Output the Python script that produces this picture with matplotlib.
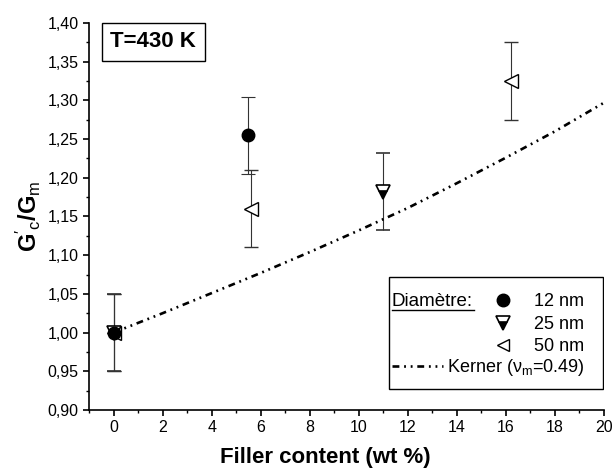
import matplotlib
matplotlib.use("Agg")
import matplotlib.pyplot as plt
from matplotlib.ticker import MultipleLocator, FuncFormatter
from matplotlib.lines import Line2D
from matplotlib.patches import Rectangle
from matplotlib import font_manager

# police etroite si disponible
names = {f.name for f in font_manager.fontManager.ttflist}
narrow = "Liberation Sans Narrow" if "Liberation Sans Narrow" in names else "Liberation Sans"

plt.rcParams["font.family"] = [narrow, "DejaVu Sans"]
plt.rcParams["mathtext.fontset"] = "custom"
plt.rcParams["mathtext.rm"] = narrow
plt.rcParams["mathtext.it"] = narrow
plt.rcParams["mathtext.bf"] = "Liberation Sans:bold"

# donnees
x_12 = [0, 5.5]
y_12 = [1.0, 1.255]
err_12 = [0.05, 0.05]

x_25 = [0, 11.0]
y_25 = [1.0, 1.182]
err_25 = [0.05, 0.05]

x_50 = [0, 5.6, 16.2]
y_50 = [1.0, 1.16, 1.325]
err_50 = [0.05, 0.05, 0.05]

x_kerner = [0, 2, 4, 6, 8, 10, 12, 14, 16, 18, 20]
y_kerner = [1.000, 1.025, 1.051, 1.077, 1.104, 1.132, 1.161, 1.193, 1.226, 1.260, 1.297]

labels = ["12 nm", "25 nm", "50 nm"]
kerner_label = r"Kerner ($\nu_{\mathrm{m}}$=0.49)"

dashdotdot = (0, (2.6, 1.8, 0.7, 1.8, 0.7, 1.8))

fig = plt.figure(figsize=(6.16, 4.72), dpi=100)
ax = fig.add_axes([0.1445, 0.1314, 0.836, 0.8199])

ekw = dict(ecolor="#333333", elinewidth=0.8, capsize=5, capthick=0.8, linestyle="none")
ax.errorbar(x_50, y_50, yerr=err_50, marker="<", ms=10, mfc="white", mec="black", mew=1.0, **ekw)
ax.errorbar(x_25, y_25, yerr=err_25, marker="v", ms=10, mfc="black", mec="black",
            mfcalt="white", fillstyle="bottom", mew=1.2, **ekw)
ax.errorbar(x_12, y_12, yerr=err_12, marker="o", ms=9, mfc="black", mec="black", **ekw)
ax.plot(x_kerner, y_kerner, color="black", lw=1.9, linestyle=dashdotdot)

ax.set_xlim(-1, 20)
ax.set_ylim(0.90, 1.40)
ax.xaxis.set_major_locator(MultipleLocator(2))
ax.xaxis.set_minor_locator(MultipleLocator(1))
ax.yaxis.set_major_locator(MultipleLocator(0.05))
ax.yaxis.set_minor_locator(MultipleLocator(0.025))
ax.yaxis.set_major_formatter(FuncFormatter(lambda v, p: f"{v:.2f}".replace(".", ",")))
ax.spines["top"].set_visible(False)
ax.spines["right"].set_visible(False)
for s in ("left", "bottom"):
    ax.spines[s].set_linewidth(1.2)
ax.tick_params(which="major", direction="out", length=4.5, width=1.2, labelsize=11.5, pad=3)
ax.tick_params(which="minor", direction="out", length=2.5, width=1.0)

ax.set_xlabel("Filler content (wt %)", fontsize=16, fontweight="bold",
              family=["Liberation Sans", "DejaVu Sans"])
ax.xaxis.set_label_coords(0.459, -0.124)
ax.xaxis.label.set_va("center")
ax.set_ylabel(r"$\mathbf{G}'_{\mathrm{c}}\mathbf{/G}_{\mathrm{m}}$", fontsize=17)
ax.yaxis.set_label_coords(-0.118, 0.5)
ax.yaxis.label.set_va("center")

ax.text(0.125, 0.951, "T=430 K", transform=ax.transAxes, ha="center", va="center",
        fontsize=16, fontweight="bold", family=["Liberation Sans", "DejaVu Sans"],
        bbox=dict(boxstyle="square,pad=0.38", fc="white", ec="black", lw=1.0))

# cadre de la legende
ax.add_patch(Rectangle((0.5825, 0.054), 0.4155, 0.29, transform=ax.transAxes,
                       fc="white", ec="black", lw=1.0, zorder=4))

h12 = Line2D([], [], marker="o", ms=9, mfc="black", mec="black", linestyle="none")
h25 = Line2D([], [], marker="v", ms=10, mfc="black", mfcalt="white", fillstyle="bottom",
             mec="black", mew=1.2, linestyle="none")
h50 = Line2D([], [], marker="<", ms=9, mfc="white", mec="black", linestyle="none")
hk = Line2D([], [], color="black", lw=1.9, linestyle=dashdotdot)

leg1 = ax.legend([h12, h25, h50], labels, loc="upper left", bbox_to_anchor=(0.786, 0.301),
                 fontsize=13, handlelength=1.0, handletextpad=1.2, labelspacing=0.3,
                 borderpad=0, borderaxespad=0, frameon=False, numpoints=1)
leg1.set_zorder(5)
ax.add_artist(leg1)
leg2 = ax.legend([hk], [kerner_label], loc="center left", bbox_to_anchor=(0.588, 0.109),
                 fontsize=13, handlelength=2.83, handletextpad=0.22,
                 borderpad=0, borderaxespad=0, frameon=False)
leg2.set_zorder(5)

ax.text(0.588, 0.281, "Diamètre:", transform=ax.transAxes, ha="left", va="center",
        fontsize=13.5, zorder=6)
ax.plot([0.588, 0.748], [0.258, 0.258], transform=ax.transAxes, color="black", lw=1.0, zorder=6)

fig.savefig("out.png", dpi=100)
